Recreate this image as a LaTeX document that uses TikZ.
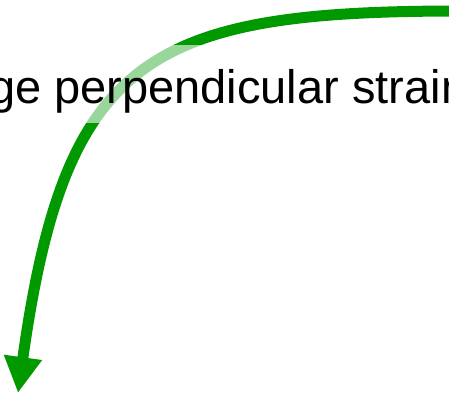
\documentclass[tikz,border=0pt]{standalone}
\usepackage{fontspec}
\setmainfont{Liberation Sans}
\usetikzlibrary{arrows.meta}
\definecolor{arrowgreen}{RGB}{0,153,0}
\tikzset{
  bigarrow/.style={draw=arrowgreen, line width=11bp, -{Triangle[length=36bp,width=36bp]}},
  label/.style={fill=white, fill opacity=0.6, text opacity=1, anchor=base west,
    inner xsep=0pt, inner ysep=10bp, text height=48bp, text depth=10bp,
    font=\fontsize{47bp}{56bp}\selectfont}
}
\begin{document}
\begin{tikzpicture}[x=1bp,y=1bp]
\useasboundingbox (0,0) rectangle (449,-396);
\clip (0,0) rectangle (449,-396);
\coordinate (s) at (460,-11);
\coordinate (e) at (18,-393);
\draw[bigarrow] (s) .. controls (150,-11) and (65,-55) .. (e);
\node[label] (t) at (-11,-103) {ge perpendicular strain};
\end{tikzpicture}
\end{document}
